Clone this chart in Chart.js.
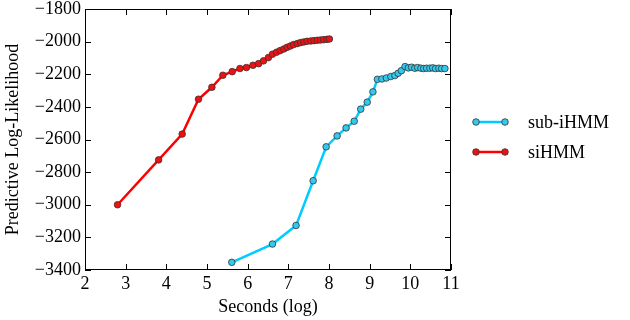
<!DOCTYPE html>
<html><head><meta charset="utf-8">
<script src="https://cdn.jsdelivr.net/npm/chart.js@4.4.1/dist/chart.umd.min.js"></script>
<style>html,body{margin:0;padding:0;background:#fff}#wrap{width:630px;height:320px;position:relative}</style>
</head><body><div id="wrap"><canvas id="c" width="630" height="320"></canvas></div>
<script>
const seriesNames = ["sub-iHMM", "siHMM"];
const xTicks = [2,3,4,5,6,7,8,9,10,11];
const yTicks = [-3400,-3200,-3000,-2800,-2600,-2400,-2200,-2000,-1800];
const sihmmX = [2.80,3.81,4.39,4.79,5.12,5.39,5.62,5.81,5.97,6.13,6.27,6.39,6.51,6.61,6.71,6.80,6.89,6.97,7.05,7.13,7.22,7.30,7.38,7.46,7.55,7.63,7.71,7.79,7.87,7.95,8.01];
const sihmmY = [-3000,-2725,-2567,-2353,-2280,-2206,-2184,-2165,-2159,-2145,-2135,-2118,-2098,-2077,-2065,-2055,-2045,-2035,-2027,-2018,-2012,-2006,-2002,-1998,-1996,-1994,-1992,-1990,-1988,-1986,-1984];
const subX = [5.61,6.61,7.19,7.61,7.93,8.20,8.42,8.62,8.78,8.94,9.08,9.19,9.30,9.41,9.52,9.62,9.70,9.78,9.87,9.95,10.03,10.11,10.18,10.26,10.33,10.40,10.48,10.55,10.62,10.70,10.77,10.85];
const subY = [-3353,-3241,-3127,-2853,-2645,-2578,-2529,-2488,-2414,-2371,-2308,-2231,-2229,-2223,-2214,-2208,-2194,-2178,-2153,-2161,-2157,-2163,-2159,-2163,-2165,-2163,-2163,-2161,-2165,-2163,-2165,-2165,-2167];

const FONT = "'Liberation Serif', 'DejaVu Serif', serif";
const colors = {sub:{line:'#00ccff', fill:'#33c8ee'}, si:{line:'#ff0000', fill:'#ee1111'}};
const toPts = (xs, ys) => xs.map((x,i)=>({x:x, y:ys[i]}));
const fmt = v => (v<0 ? '\u2212' : '') + Math.abs(v);

const frameTicks = {
  id:'frameTicks',
  afterDraw(chart){
    const {ctx, chartArea:a, scales:{x, y}} = chart;
    ctx.save();
    ctx.strokeStyle='#000'; ctx.lineWidth=1;
    ctx.strokeRect(a.left+0.5, a.top+0.5, a.right-a.left-1, a.bottom-a.top-1);
    const L=6;
    ctx.beginPath();
    xTicks.forEach(v=>{const p=Math.round(x.getPixelForValue(v))+0.5;
      ctx.moveTo(p,a.bottom); ctx.lineTo(p,a.bottom-L); ctx.moveTo(p,a.top); ctx.lineTo(p,a.top+L);});
    yTicks.forEach(v=>{const p=Math.round(y.getPixelForValue(v))+0.5;
      ctx.moveTo(a.left,p); ctx.lineTo(a.left+L,p); ctx.moveTo(a.right,p); ctx.lineTo(a.right-L,p);});
    ctx.stroke();
    // legend
    const items=[{n:seriesNames[0],c:colors.sub,y:122},{n:seriesNames[1],c:colors.si,y:152}];
    items.forEach(it=>{
      ctx.strokeStyle=it.c.line; ctx.lineWidth=2.5;
      ctx.beginPath(); ctx.moveTo(476,it.y); ctx.lineTo(505,it.y); ctx.stroke();
      [476,505].forEach(px=>{ctx.beginPath(); ctx.arc(px,it.y,3.3,0,Math.PI*2);
        ctx.fillStyle=it.c.fill; ctx.fill(); ctx.lineWidth=0.8; ctx.strokeStyle='#333'; ctx.stroke();});
      ctx.fillStyle='#000'; ctx.font='18px '+FONT; ctx.textBaseline='middle'; ctx.textAlign='left';
      ctx.fillText(it.n, 528, it.y+1);
    });
    ctx.restore();
  }
};

const ds = (label, pts, c) => ({label, data:pts, showLine:true, borderColor:c.line, borderWidth:2.5,
  pointBackgroundColor:c.fill, pointBorderColor:'#333', pointBorderWidth:0.8, pointRadius:3.3, tension:0});

new Chart(document.getElementById('c'), {
  type:'scatter',
  data:{datasets:[ds(seriesNames[1], toPts(sihmmX,sihmmY), colors.si), ds(seriesNames[0], toPts(subX,subY), colors.sub)]},
  options:{
    responsive:false, animation:false, events:[],
    layout:{padding:{top:9, right:179, left:2, bottom:0}},
    plugins:{legend:{display:false}, tooltip:{enabled:false}},
    scales:{
      x:{type:'linear', min:2, max:11,
        afterBuildTicks(s){s.ticks = xTicks.map(v=>({value:v}));},
        afterFit(s){s.height=50; s.paddingLeft=0; s.paddingRight=0;},
        grid:{display:false, drawTicks:false}, border:{display:false},
        ticks:{color:'#000', font:{family:FONT, size:18}, padding:3, callback:v=>fmt(v), maxRotation:0, autoSkip:false},
        title:{display:true, text:'Seconds (log)', color:'#000', font:{family:FONT, size:18}, padding:{top:0,bottom:2}}},
      y:{type:'linear', min:-3400, max:-1800,
        afterBuildTicks(s){s.ticks = yTicks.map(v=>({value:v}));},
        afterFit(s){s.width=83; s.paddingTop=0; s.paddingBottom=0;},
        grid:{display:false, drawTicks:false}, border:{display:false},
        ticks:{color:'#000', font:{family:FONT, size:18}, padding:4, callback:v=>fmt(v), autoSkip:false},
        title:{display:true, text:'Predictive Log-Likelihood', color:'#000', font:{family:FONT, size:18}, padding:{top:0,bottom:0}}}
    }
  },
  plugins:[frameTicks]
});
</script></body></html>
